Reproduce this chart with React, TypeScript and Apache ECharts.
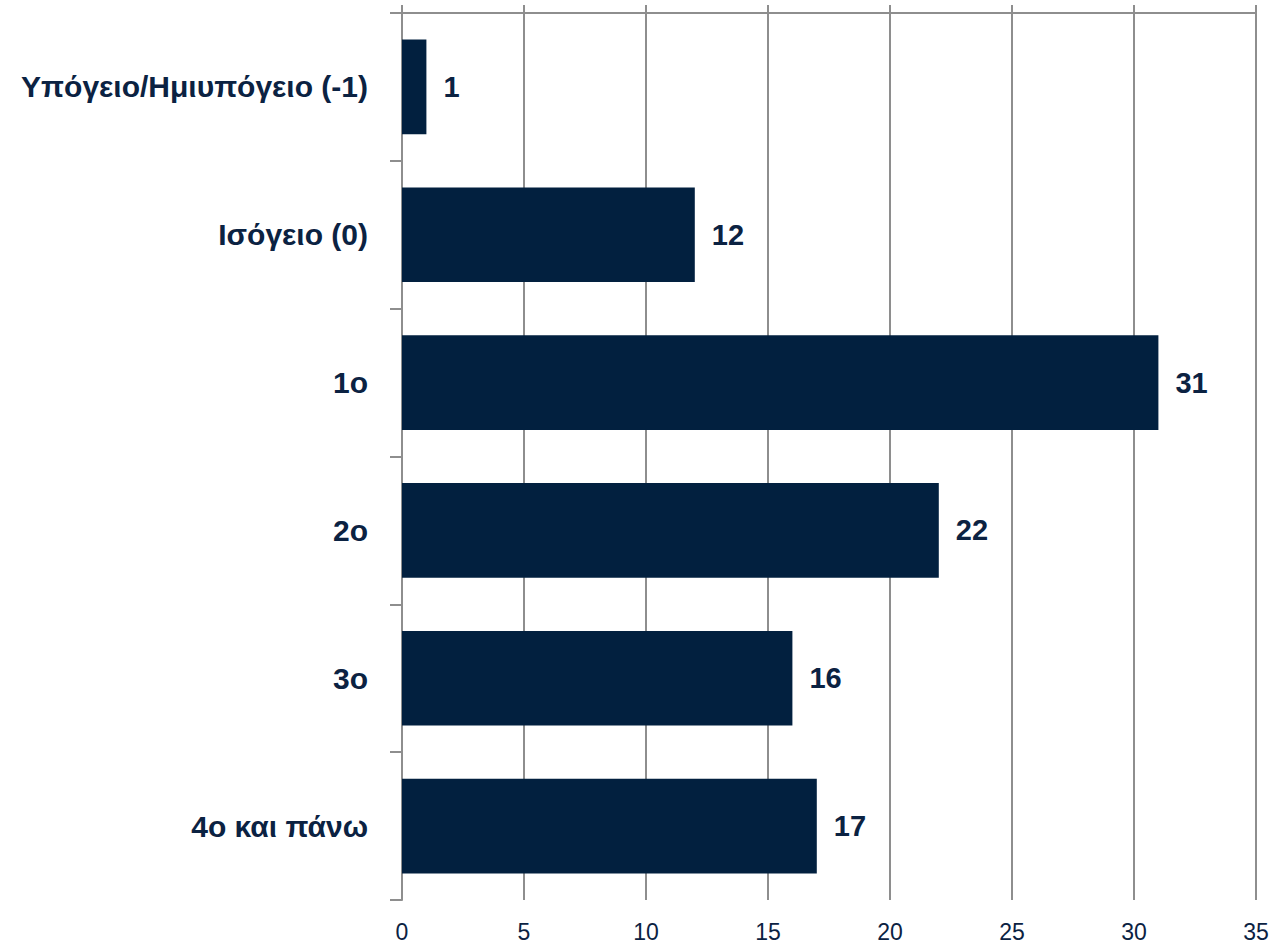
import React, { useEffect, useRef } from "react";
import * as echarts from "echarts";

const categories = [
  "Υπόγειο/Ημιυπόγειο (-1)",
  "Ισόγειο (0)",
  "1ο",
  "2ο",
  "3ο",
  "4ο και πάνω",
];
const values = [1, 12, 31, 22, 16, 17];
const xMin = 0;
const xMax = 35;
const xStep = 5;

const NAVY = "#02203f";
const TEXT = "#0b2242";
const GRID = "#8e8e8e";
const FONT = "'Liberation Sans Narrow', 'Arial Narrow', 'Liberation Sans', Arial, sans-serif";

export default function App() {
  const ref = useRef<HTMLDivElement>(null);
  useEffect(() => {
    if (!ref.current) return;
    const chart = echarts.init(ref.current, undefined, { renderer: "svg" });
    chart.setOption({
      animation: false,
      backgroundColor: "#ffffff",
      grid: {
        left: 402,
        right: 17,
        top: 13,
        bottom: 50,
        containLabel: false,
        outerBoundsMode: "none",
      },
      xAxis: [
        {
          type: "value",
          position: "bottom",
          min: xMin,
          max: xMax,
          interval: xStep,
          axisLine: { show: false },
          axisTick: { show: false },
          splitLine: { show: true, lineStyle: { color: GRID, width: 2 } },
          axisLabel: {
            margin: 20,
            color: TEXT,
            fontFamily: FONT,
            fontSize: 23,
          },
        },
        {
          type: "value",
          position: "top",
          min: xMin,
          max: xMax,
          interval: xStep,
          axisLine: { show: true, lineStyle: { color: GRID, width: 2 } },
          axisTick: { show: true, length: 8, lineStyle: { color: GRID, width: 2 } },
          splitLine: { show: false },
          axisLabel: { show: false },
        },
      ],
      yAxis: {
        type: "category",
        data: categories,
        inverse: true,
        boundaryGap: true,
        axisLine: { show: true, lineStyle: { color: GRID, width: 2 } },
        axisTick: { show: true, length: 12, lineStyle: { color: GRID, width: 2 } },
        axisLabel: {
          margin: 34,
          color: TEXT,
          fontFamily: FONT,
          fontWeight: "bold",
          fontSize: 30,
        },
      },
      series: [
        {
          type: "bar",
          xAxisIndex: 0,
          data: values,
          barCategoryGap: "36%",
          itemStyle: { color: NAVY },
          label: {
            show: true,
            position: "right",
            distance: 17,
            color: TEXT,
            fontFamily: FONT,
            fontWeight: "bold",
            fontSize: 29,
          },
        },
      ],
    });
    return () => chart.dispose();
  }, []);
  return <div ref={ref} style={{ width: 1273, height: 950, position: "absolute", left: 0, top: 0 }} />;
}
